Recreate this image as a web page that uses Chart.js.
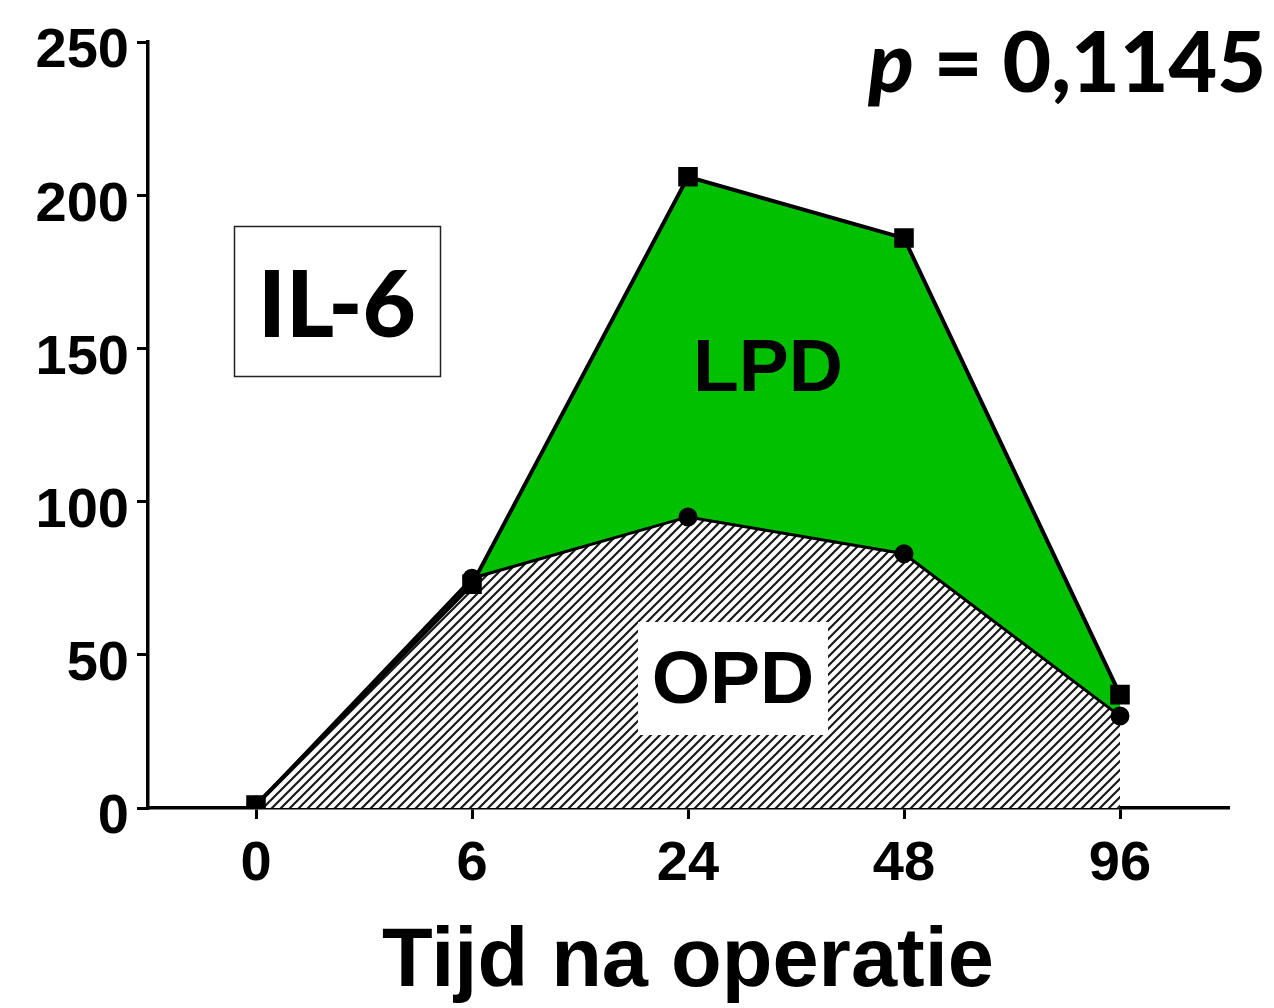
<!DOCTYPE html>
<html>
<head>
<meta charset="utf-8">
<script src="https://cdn.jsdelivr.net/npm/chart.js@4"></script>
<style>
  html, body { margin: 0; padding: 0; background: #fff; }
  canvas { display: block; }
</style>
</head>
<body>
<canvas id="il6Chart" width="1274" height="1008"></canvas>
<script>
// categories (hours after surgery)
const tijdLabels = ['0', '6', '24', '48', '96'];
// IL-6 values
const opdValues = [1, 75, 95, 83, 30];
const lpdValues = [1, 73, 206, 186, 37];
// y ticks
const yTicks = [0, 50, 100, 150, 200, 250];

// diagonal hatch for OPD
function makeHatch() {
    const s = 9;
    const c = document.createElement('canvas');
    c.width = s; c.height = s;
    const g = c.getContext('2d');
    g.fillStyle = '#fff';
    g.fillRect(0, 0, s, s);
    g.strokeStyle = '#1a1a1a';
    g.lineWidth = 2.2;
    g.beginPath();
    g.moveTo(-1, s + 1); g.lineTo(s + 1, -1);
    g.moveTo(-2, 2); g.lineTo(2, -2);
    g.moveTo(s - 2, s + 2); g.lineTo(s + 2, s - 2);
    g.stroke();
    return g.createPattern(c, 'repeat');
}

// labels in the plot
const labelsPlugin = {
    id: 'labels',
    afterDatasetsDraw(chart) {
        const ctx = chart.ctx;
        ctx.save();
        // OPD box
        ctx.fillStyle = '#fff';
        ctx.fillRect(638, 622, 190, 113);
        ctx.fillStyle = '#000';
        ctx.textAlign = 'center';
        ctx.textBaseline = 'middle';
        ctx.font = 'bold 75px "Liberation Sans", Arial, sans-serif';
        ctx.fillText('OPD', 733, 682);
        ctx.fillText('LPD', 768, 370);
        ctx.restore();
    },
    afterDraw(chart) {
        const ctx = chart.ctx;
        ctx.save();
        // IL-6 box
        ctx.strokeStyle = '#222';
        ctx.lineWidth = 1.5;
        ctx.strokeRect(234.5, 226.5, 206, 150);
        ctx.fillStyle = '#000';
        ctx.textAlign = 'center';
        ctx.textBaseline = 'alphabetic';
        ctx.font = '900 92px Lato, "Open Sans", sans-serif';
        ctx.fillText('IL-6', 337, 337);
        // p value
        ctx.textAlign = 'left';
        ctx.font = '900 84px Lato, sans-serif';
        const rest = ' = 0,1145';
        const wRest = ctx.measureText(rest).width;
        ctx.font = 'italic 900 84px Lato, sans-serif';
        const wP = ctx.measureText('p').width;
        const x0 = 1266 - wRest - wP;
        ctx.fillText('p', x0, 92);
        ctx.font = '900 84px Lato, sans-serif';
        ctx.fillText(rest, x0 + wP, 92);
        ctx.restore();
    }
};

const ctx = document.getElementById('il6Chart').getContext('2d');

new Chart(ctx, {
    type: 'line',
    data: {
        labels: tijdLabels,
        datasets: [{
            label: 'OPD',
            data: opdValues,
            borderColor: '#000',
            borderWidth: 3,
            backgroundColor: makeHatch(),
            fill: 'origin',
            pointStyle: 'circle',
            pointRadius: 8,
            pointBackgroundColor: '#000',
            pointBorderColor: '#000',
            tension: 0
        }, {
            label: 'LPD',
            data: lpdValues,
            borderColor: '#000',
            borderWidth: 4,
            backgroundColor: '#00c000',
            fill: '-1',
            pointStyle: 'rect',
            pointRadius: 11,
            pointBackgroundColor: '#000',
            pointBorderColor: '#000',
            tension: 0
        }]
    },
    options: {
        responsive: false,
        animation: false,
        layout: { padding: { top: 42, right: 46, left: 0, bottom: 0 } },
        plugins: {
            legend: { display: false },
            tooltip: { enabled: false },
            filler: { drawTime: 'beforeDatasetsDraw' }
        },
        scales: {
            x: {
                offset: true,
                border: { color: '#000', width: 3.5 },
                grid: { drawOnChartArea: false, drawTicks: true, color: '#000', tickColor: '#000', lineWidth: 3, tickWidth: 3, tickLength: 11 },
                ticks: {
                    color: '#000',
                    padding: 12,
                    font: { family: '"Liberation Sans", Arial, sans-serif', size: 56, weight: 'bold' }
                },
                title: {
                    display: true,
                    text: 'Tijd na operatie',
                    color: '#000',
                    padding: { top: 26, bottom: -5 },
                    font: { family: '"Liberation Sans", Arial, sans-serif', size: 83, weight: 'bold' }
                },
                afterFit(scale) { scale.height = 200; }
            },
            y: {
                min: 0,
                max: 250,
                border: { color: '#000', width: 3.5 },
                grid: { drawOnChartArea: false, drawTicks: true, color: '#000', tickColor: '#000', lineWidth: 3, tickWidth: 3, tickLength: 11 },
                afterBuildTicks(scale) { scale.ticks = yTicks.map(v => ({ value: v })); },
                ticks: {
                    color: '#000',
                    padding: 8,
                    labelOffset: 10,
                    font: { family: '"Liberation Sans", Arial, sans-serif', size: 56, weight: 'bold' }
                },
                afterFit(scale) { scale.width = 148; }
            }
        }
    },
    plugins: [labelsPlugin]
});
</script>
</body>
</html>
